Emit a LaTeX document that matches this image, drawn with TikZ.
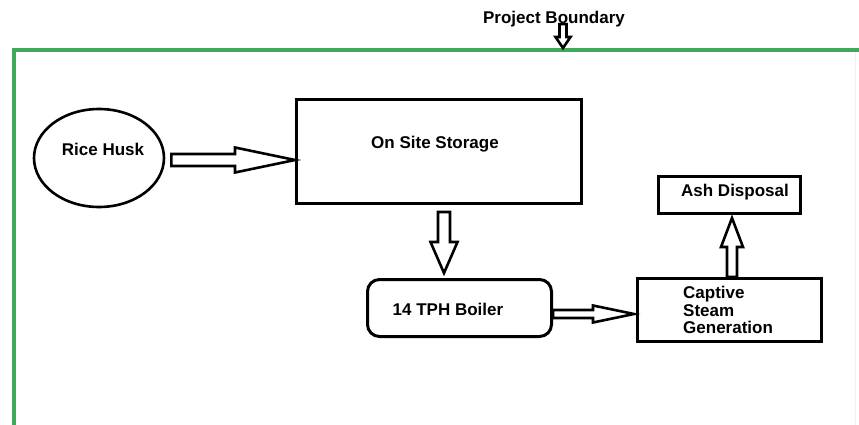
\documentclass[tikz,border=0pt]{standalone}
\usepackage{fontspec}
\setmainfont{Liberation Sans}
\usetikzlibrary{calc,shapes.geometric}

\definecolor{boundgreen}{RGB}{62,170,90}

% hollow block arrow: from, to, shaft half width, head half width, head length
\newcommand{\hollowarrow}[5]{%
	\coordinate (hb) at ($(#2)!#5!(#1)$);
	\draw[arrowline] ($(#1)!#3!90:(#2)$) -- ($(hb)!#3!90:(#2)$) -- ($(hb)!#4!90:(#2)$)
	-- (#2) -- ($(hb)!#4!-90:(#2)$) -- ($(hb)!#3!-90:(#2)$) -- ($(#1)!#3!-90:(#2)$) -- cycle;
}

\begin{document}
\begin{tikzpicture}[x=1pt, y=-1pt,
	box/.style={draw, line width=3pt, inner sep=0pt},
	txt/.style={font=\fontsize{17}{17.5}\selectfont\bfseries, inner sep=0pt},
	arrowline/.style={draw, line width=2.6pt, fill=white, line join=miter}]
	
	\useasboundingbox (0,0) rectangle (859,425);
	
	% project boundary
	\draw[gray!12, line width=1pt] (855.5,52) -- (855.5,425);
	\draw[boundgreen, line width=4pt] (14,425) -- (14,50) -- (859,50);
	\node[txt] (title) at (554,19) {Project Boundary};
	
	% blocks
	\node[draw, ellipse, line width=2.6pt, minimum width=130, minimum height=98, inner sep=0pt] (husk) at (99,158) {};
	\node[txt] (husktext) at (103,149) {Rice Husk};
	
	\node[box, minimum width=285, minimum height=104] (store) at (439,151.5) {};
	\node[txt] (storetext) at (435,144) {On Site Storage};
	
	\node[box, rounded corners=12pt, minimum width=184, minimum height=57] (boiler) at (459.5,308) {};
	\node[txt] (boilertext) at (448,309) {14 TPH Boiler};
	
	\node[box, minimum width=184, minimum height=63] (capt) at (729.5,310) {};
	\node[txt, align=left, anchor=west] (capttext) at (683,310) {Captive\\Steam\\Generation};
	
	\node[box, minimum width=142, minimum height=37] (ash) at (729.5,195) {};
	\node[txt] (ashtext) at (735,192) {Ash Disposal};
	
	% arrows
	\coordinate (b1) at ([xshift=9pt, yshift=3pt]title.south);
	\coordinate (b2) at (b1 |- 0,48);
	\hollowarrow{b1}{b2}{3.5pt}{7.5pt}{11pt}
	
	\coordinate (a1) at ([xshift=6pt, yshift=-2pt]husk.east);
	\coordinate (a2) at (a1 -| store.west);
	\hollowarrow{a1}{a2}{6pt}{12.5pt}{60pt}
	
	\coordinate (a3) at ([xshift=5pt, yshift=-7pt]store.south);
	\coordinate (a4) at ([yshift=5pt]a3 |- boiler.north);
	\hollowarrow{a3}{a4}{6pt}{13.5pt}{31pt}
	
	\coordinate (a5) at ([yshift=-6pt]boiler.east);
	\coordinate (a6) at ([xshift=-2pt]a5 -| capt.west);
	\hollowarrow{a5}{a6}{4pt}{8.5pt}{41pt}
	
	\coordinate (a7) at ([xshift=2.5pt]capt.north);
	\coordinate (a8) at ([yshift=-3pt]a7 |- ash.south);
	\hollowarrow{a7}{a8}{5pt}{11pt}{29pt}
	
\end{tikzpicture}
\end{document}
